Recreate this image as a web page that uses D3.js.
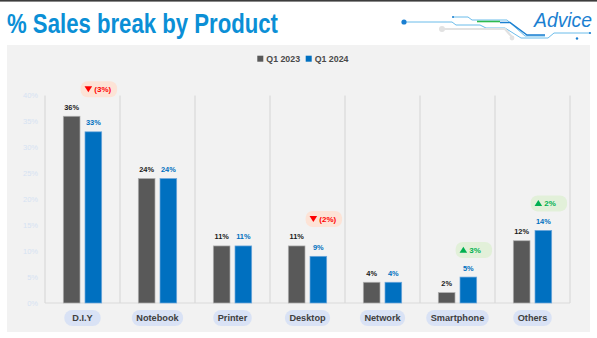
<!DOCTYPE html>
<html>
<head>
<meta charset="utf-8">
<script src="https://cdn.jsdelivr.net/npm/d3@7"></script>
<style>
html,body{margin:0;padding:0;background:#fff;}
svg{display:block;}
text{font-family:"Liberation Sans Narrow","Liberation Sans",Arial,sans-serif;}
</style>
</head>
<body>
<svg id="chart" width="597" height="338"></svg>
<script>
// ---- data ----
const categories = ["D.I.Y", "Notebook", "Printer", "Desktop", "Network", "Smartphone", "Others"];
const seriesNames = ["Q1 2023", "Q1 2024"];
const q1_2023 = [36, 24, 11, 11, 4, 2, 12];
const q1_2024 = [33, 24, 11, 9, 4, 5, 14];
const yTicks = [0, 5, 10, 15, 20, 25, 30, 35, 40];
const badgeCategories = ["D.I.Y", "Desktop", "Smartphone", "Others"];
const badgeTexts = ["(3%)", "(2%)", "3%", "2%"];
const badgeDirections = ["down", "down", "up", "up"];
const titleText = "% Sales break by Product";
const logoText = "Advice";

// ---- setup ----
const svg = d3.select("#chart");
const seriesValues = [q1_2023, q1_2024];
const colors = ["#595959", "#0070c0"];
const strokes = ["#b0b0b0", "#6fa8dc"];
const labelColors = ["#1a1a1a", "#0070c0"];

// top rule
svg.append("rect").attr("x", 0).attr("y", 0).attr("width", 597).attr("height", 1.6).attr("fill", "#3c3c3c");

// title
svg.append("text").attr("x", 7).attr("y", 33)
  .attr("font-family", "'Liberation Sans',Arial,sans-serif")
  .attr("font-size", 28.5).attr("font-weight", "bold").attr("fill", "#0b8fd6")
  .attr("textLength", 271).attr("lengthAdjust", "spacingAndGlyphs")
  .text(titleText);

// logo circuit
const logo = svg.append("g");
logo.append("path").attr("d", "M404,22 H452 L456,25 H480 L486,28 H505 L521,38 H548 L554,33 H590")
  .attr("fill", "none").attr("stroke", "#5ab4e8").attr("stroke-width", 0.9);
logo.append("path").attr("d", "M453,17 H468 L472,20 H507 L525,36 H545")
  .attr("fill", "none").attr("stroke", "#5ab4e8").attr("stroke-width", 0.9);
logo.append("path").attr("d", "M477,21.5 H500")
  .attr("fill", "none").attr("stroke", "#2dbb4e").attr("stroke-width", 1.6);
logo.append("path").attr("d", "M500,22.5 H510 L527,35 H545")
  .attr("fill", "none").attr("stroke", "#1a7fd1").attr("stroke-width", 1.4);
logo.append("path").attr("d", "M442,29 H505 L512,37")
  .attr("fill", "none").attr("stroke", "#e2e2e2").attr("stroke-width", 2.2);
logo.append("circle").attr("cx", 404).attr("cy", 22).attr("r", 2.6).attr("fill", "#1a7fd1");
logo.append("circle").attr("cx", 442).attr("cy", 29).attr("r", 3).attr("fill", "#e2e2e2");
logo.append("circle").attr("cx", 512).attr("cy", 38).attr("r", 2.4).attr("fill", "#e2e2e2");
logo.append("circle").attr("cx", 453).attr("cy", 17).attr("r", 1).attr("fill", "#1a7fd1");
logo.append("circle").attr("cx", 577).attr("cy", 38.5).attr("r", 1.2).attr("fill", "#1a7fd1");
logo.append("circle").attr("cx", 590).attr("cy", 33).attr("r", 1.1).attr("fill", "#1a7fd1");
svg.append("text").attr("x", 592).attr("y", 26.5).attr("text-anchor", "end")
  .attr("font-family", "'Liberation Sans',Arial,sans-serif")
  .attr("font-size", 21).attr("font-style", "italic").attr("fill", "#1a7fd1")
  .attr("textLength", 58).attr("lengthAdjust", "spacingAndGlyphs")
  .text(logoText);

// panel
svg.append("rect").attr("x", 7).attr("y", 45).attr("width", 583).attr("height", 287).attr("fill", "#f2f2f2");

// scales
const x = d3.scaleBand().domain(categories).range([45, 570]).padding(0);
const xs = d3.scaleBand().domain(seriesNames).range([18.3, 56.7]).paddingInner(0.23).paddingOuter(0);
const y = d3.scaleLinear().domain([0, 40]).range([303, 95.5]);

// y axis labels
const yAxis = d3.axisLeft(y).tickValues(yTicks).tickFormat(d => d + "%").tickSize(0).tickPadding(7);
const yg = svg.append("g").attr("transform", "translate(45,0)").call(yAxis);
yg.select(".domain").remove();
yg.selectAll("text").attr("fill", "#d6e2f2").attr("font-size", 7.5)
  .attr("font-family", "'Liberation Sans Narrow','Liberation Sans',Arial,sans-serif");

// vertical separators
const bounds = categories.map(c => x(c)).concat([x(categories[categories.length - 1]) + x.bandwidth()]);
svg.append("g").selectAll("line").data(bounds).join("line")
  .attr("x1", d => d).attr("x2", d => d).attr("y1", y(40)).attr("y2", y(0))
  .attr("stroke", "#d9d9d9").attr("stroke-width", 1.2);
// baseline
svg.append("line").attr("x1", x.range()[0]).attr("x2", x.range()[1]).attr("y1", y(0)).attr("y2", y(0))
  .attr("stroke", "#d9d9d9").attr("stroke-width", 1.2);

// legend
const legendX = [257.3, 305.7];
const lg = svg.append("g");
seriesNames.forEach((s, i) => {
  lg.append("rect").attr("x", legendX[i]).attr("y", 55.7).attr("width", 6).attr("height", 6).attr("fill", colors[i]);
  lg.append("text").attr("x", legendX[i] + 9).attr("y", 61.8).attr("font-size", 8.8).attr("font-weight", "bold")
    .attr("fill", "#4a4a4a").text(s);
});

// bars
const rows = [];
categories.forEach((c, ci) => {
  seriesNames.forEach((s, si) => rows.push({cat: c, s, si, v: seriesValues[si][ci]}));
});
svg.append("g").selectAll("rect").data(rows).join("rect")
  .attr("x", d => x(d.cat) + xs(d.s))
  .attr("y", d => y(d.v))
  .attr("width", xs.bandwidth())
  .attr("height", d => y(0) - y(d.v))
  .attr("fill", d => colors[d.si])
  .attr("stroke", d => strokes[d.si]).attr("stroke-width", 0.7);

// value labels
svg.append("g").selectAll("text").data(rows).join("text")
  .attr("x", d => x(d.cat) + xs(d.s) + xs.bandwidth() / 2)
  .attr("y", d => y(d.v) - 6.5)
  .attr("text-anchor", "middle").attr("font-size", 7.4).attr("font-weight", "bold")
  .attr("fill", d => labelColors[d.si]).text(d => d.v + "%");

// category pills
const cg = svg.append("g");
categories.forEach(c => {
  const cx = x(c) + x.bandwidth() / 2;
  const g = cg.append("g");
  const t = g.append("text").attr("x", cx).attr("y", 321.3).attr("text-anchor", "middle")
    .attr("font-size", 9.2).attr("font-weight", "bold").attr("fill", "#404040").text(c);
  const w = Math.max(36.5, t.node().getComputedTextLength() + 9);
  g.insert("rect", "text").attr("x", cx - w / 2).attr("y", 310).attr("width", w).attr("height", 16)
    .attr("rx", 8).attr("fill", "#d9e2f5");
});

// change badges
const bg = svg.append("g");
badgeCategories.forEach((c, i) => {
  const ci = categories.indexOf(c);
  const top = Math.max(q1_2023[ci], q1_2024[ci]);
  const cx = x(c) + xs(seriesNames[1]) + xs.bandwidth() / 2 + 5.5;
  const cy = y(top) - 27;
  const up = badgeDirections[i] === "up";
  const fill = up ? "#e2f0d9" : "#fde3d6";
  const col = up ? "#00b050" : "#ff0000";
  const w = 36.5, h = 16;
  bg.append("rect").attr("x", cx - w / 2).attr("y", cy - h / 2).attr("width", w).attr("height", h)
    .attr("rx", 7).attr("fill", fill);
  const tx = cx - 10.5;
  const tri = up
    ? `M${tx - 3.8},${cy + 2.7} L${tx + 3.8},${cy + 2.7} L${tx},${cy - 3.3} Z`
    : `M${tx - 3.8},${cy - 3} L${tx + 3.8},${cy - 3} L${tx},${cy + 3} Z`;
  bg.append("path").attr("d", tri).attr("fill", col);
  bg.append("text").attr("x", tx + 6).attr("y", cy + 2.8).attr("font-size", 8).attr("font-weight", "bold")
    .attr("fill", col).text(badgeTexts[i]);
});
</script>
</body>
</html>
